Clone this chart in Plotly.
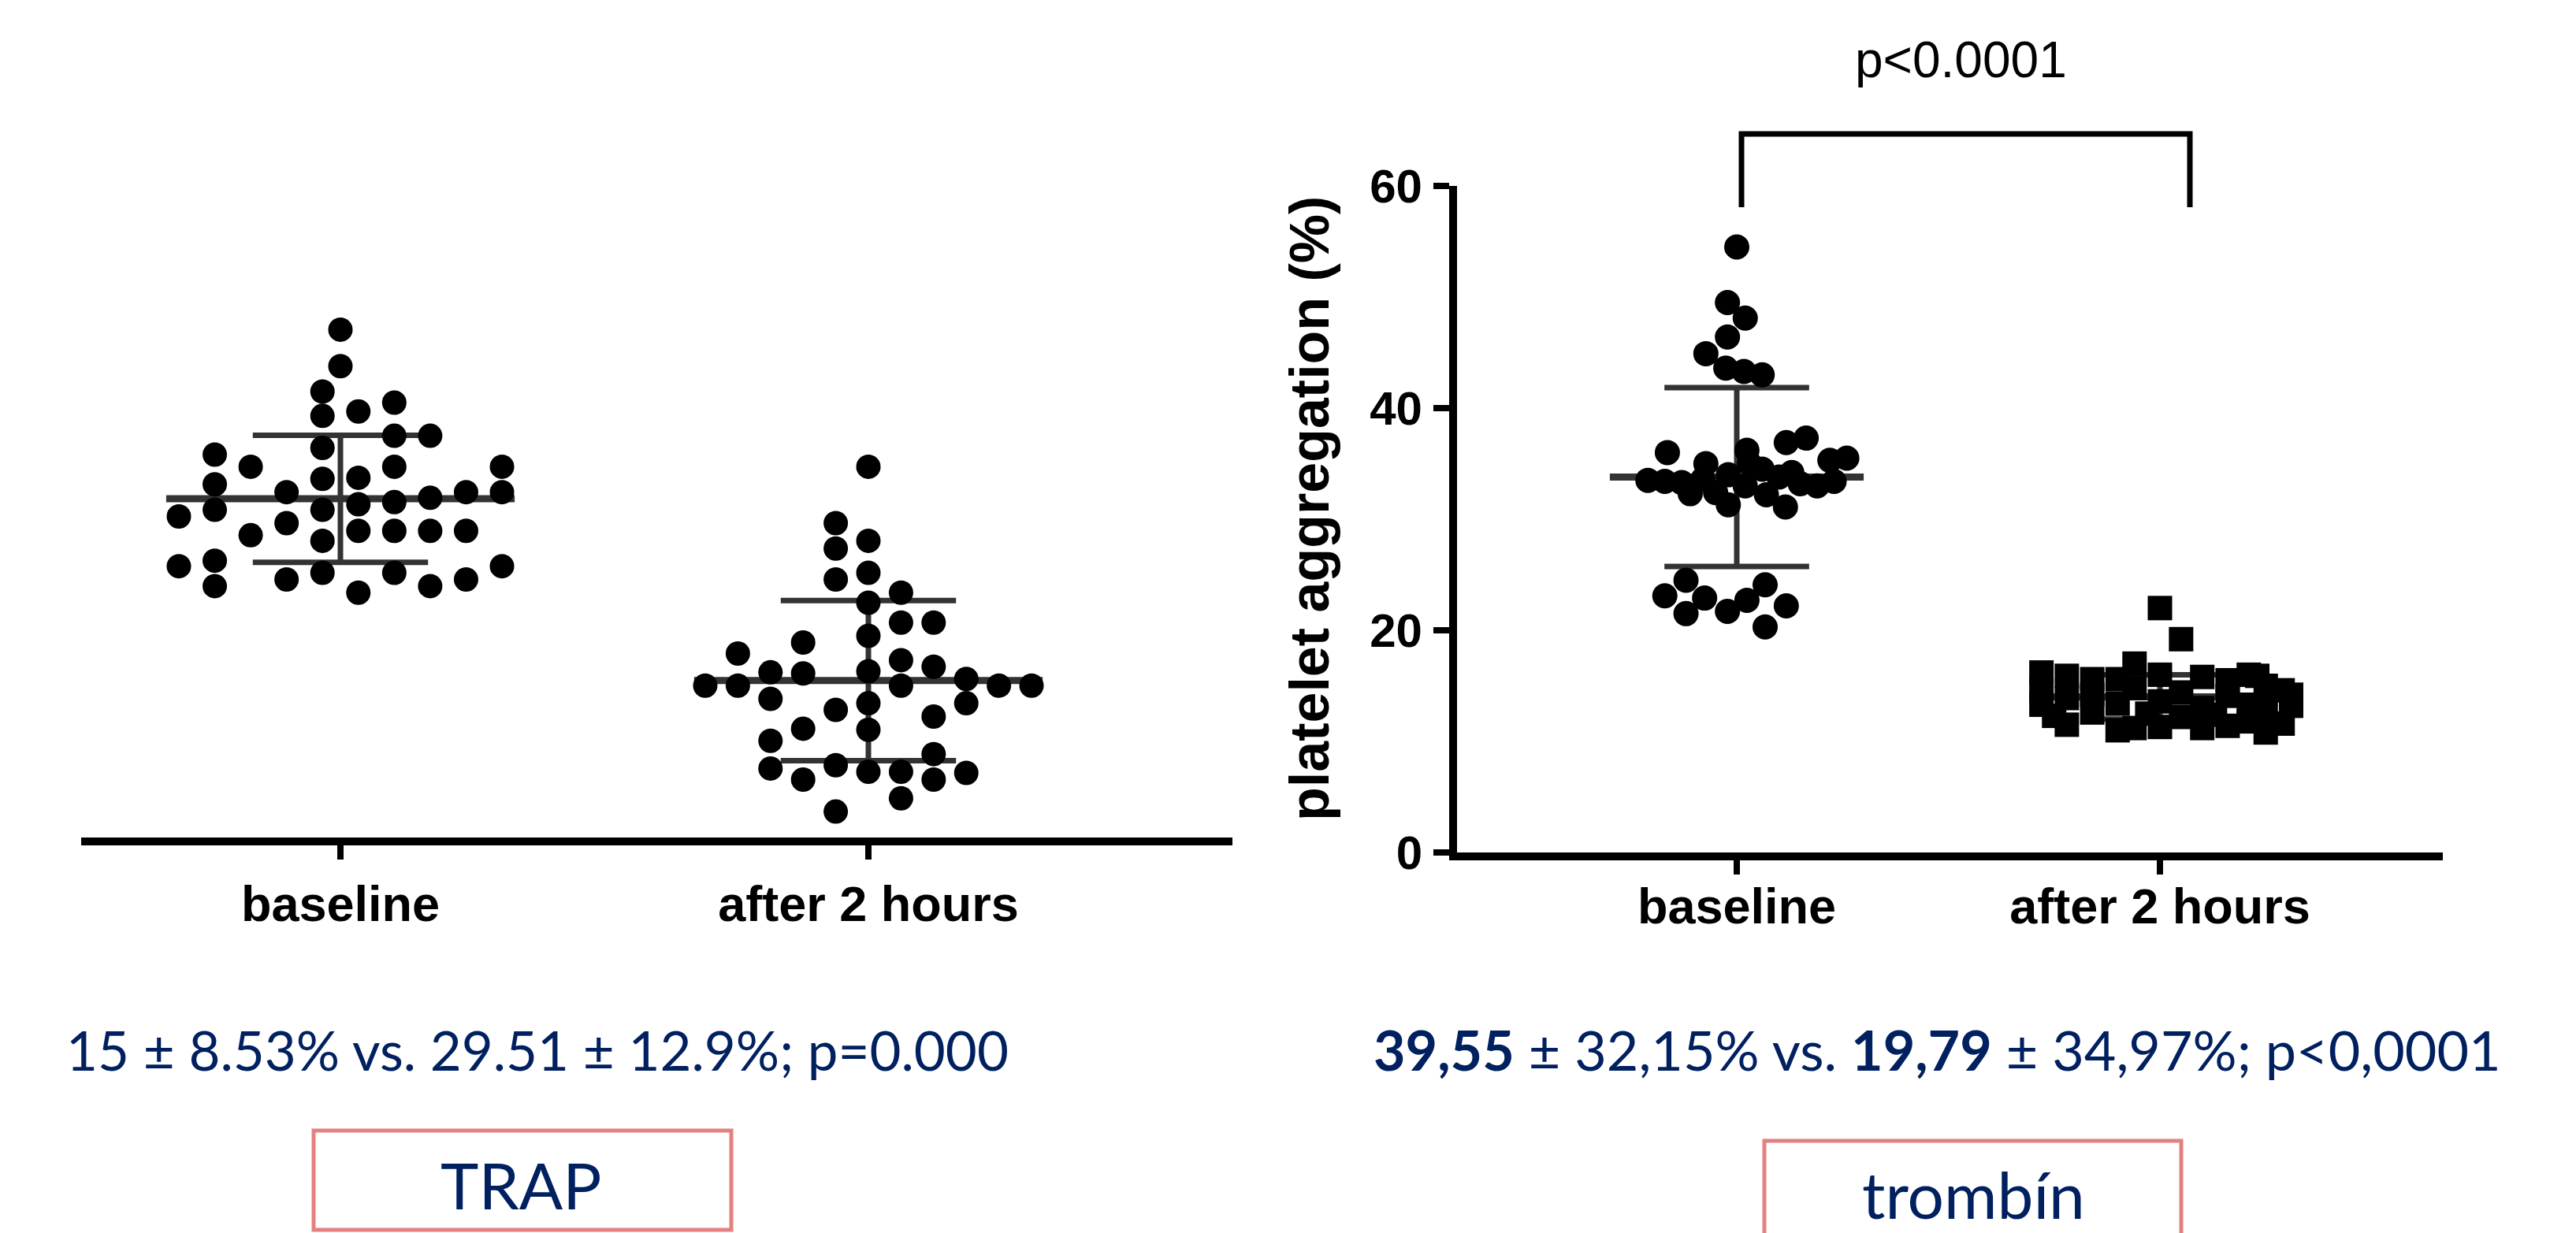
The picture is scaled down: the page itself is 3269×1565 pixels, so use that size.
import plotly.graph_objects as go

W, H = 3269, 1565

# ---------------- data ----------------
categories = ["baseline", "after 2 hours"]

# TRAP panel (left) - circles, x jitter in columns
trap_base_vals = [46.3, 43.0,
                  40.7, 38.5, 35.6, 32.8, 30.0, 27.2, 24.3,
                  38.9, 32.9, 30.5, 28.1, 22.5,
                  39.7, 36.7, 33.9, 30.7, 28.1, 24.3,
                  36.7, 31.1, 28.1, 23.1,
                  31.6, 28.1, 23.7,
                  33.9, 31.6, 24.9,
                  31.6, 28.8, 23.7,
                  33.9, 27.7,
                  35.0, 32.3, 30.0, 25.4, 23.1,
                  29.4, 24.9]
trap_base_cols = [0, 0,
                  -0.5, -0.5, -0.5, -0.5, -0.5, -0.5, -0.5,
                  0.5, 0.5, 0.5, 0.5, 0.5,
                  1.5, 1.5, 1.5, 1.5, 1.5, 1.5,
                  2.5, 2.5, 2.5, 2.5,
                  3.5, 3.5, 3.5,
                  4.5, 4.5, 4.5,
                  -1.5, -1.5, -1.5,
                  -2.5, -2.5,
                  -3.5, -3.5, -3.5, -3.5, -3.5,
                  -4.5, -4.5]

trap_after_vals = [33.9, 27.2, 24.3, 21.6, 18.6, 15.4, 12.5, 10.1, 6.3,
                   28.8, 26.5, 23.7, 11.9, 6.9, 2.7,
                   22.5, 19.8, 16.4, 14.1, 6.3, 3.9,
                   19.8, 15.8, 11.3, 7.9, 5.6,
                   14.7, 12.5, 6.2,
                   14.1,
                   14.1,
                   18.0, 15.2, 10.2, 5.6,
                   15.3, 12.9, 9.1, 6.6,
                   17.0, 14.1,
                   14.1]
trap_after_cols = [0, 0, 0, 0, 0, 0, 0, 0, 0,
                   -1, -1, -1, -1, -1, -1,
                   1, 1, 1, 1, 1, 1,
                   2, 2, 2, 2, 2,
                   3, 3, 3,
                   4,
                   5,
                   -2, -2, -2, -2,
                   -3, -3, -3, -3,
                   -4, -4,
                   -5]

trap_mean = [31.0, 14.55]
trap_sd = [5.75, 7.25]

# thrombin panel (right) - baseline circles, after squares; x jitter in category units
thr_base_vals = [54.5, 49.5, 48.1, 46.4, 44.9, 43.6, 43.3, 43.0,
                 36.0, 36.9, 37.3, 35.5, 35.0, 36.2,
                 33.5, 33.4, 33.3, 32.3, 33.6, 32.4, 34.0, 31.3, 35.0, 33.0,
                 34.5, 32.2, 33.8, 31.1, 33.2, 33.0, 33.4, 35.3, 34.2,
                 23.1, 24.5, 21.5, 22.9, 21.7, 22.7, 24.1, 22.2, 20.3]
thr_base_jit = [0.0, -0.022, 0.02, -0.022, -0.073, -0.026, 0.017, 0.06,
                -0.164, 0.117, 0.164, 0.26, -0.073, 0.024,
                -0.21, -0.17, -0.13, -0.11, -0.08, -0.05, -0.02, -0.02, 0.03, 0.02,
                0.06, 0.07, 0.10, 0.115, 0.15, 0.19, 0.23, 0.22, 0.13,
                -0.17, -0.12, -0.12, -0.076, -0.022, 0.024, 0.067, 0.117, 0.067]

thr_after_vals = [16.2, 14.6, 13.3, 15.9, 11.5, 13.9, 15.6, 12.6, 14.2,
                  15.6, 11.0, 13.4, 17.0, 14.8, 11.2,
                  22.0, 16.0, 13.6, 11.3, 19.2, 14.4, 12.2,
                  15.8, 13.0, 11.2, 15.5, 14.1, 11.4,
                  16.0, 13.3, 11.8, 15.0, 12.8, 10.8,
                  14.6, 11.6, 14.2, 13.2,
                  12.3, 12.4, 12.5, 15.9]
thr_after_jit = [-0.28, -0.28, -0.28, -0.22, -0.22, -0.22, -0.16, -0.16, -0.16,
                 -0.10, -0.10, -0.10, -0.06, -0.06, -0.06,
                 0.0, 0.0, 0.0, 0.0, 0.05, 0.05, 0.05,
                 0.10, 0.10, 0.10, 0.16, 0.16, 0.16,
                 0.21, 0.21, 0.21, 0.25, 0.25, 0.25,
                 0.29, 0.29, 0.31, 0.31,
                 -0.25, 0.13, -0.03, 0.23]

thr_mean = [33.8, 14.0]
thr_sd = [8.05, 2.0]

y_ticks = [0, 20, 40, 60]

left_text = "15 ± 8.53% vs. 29.51 ± 12.9%; p=0.000"
right_text = "<b>39,55</b> ± 32,15% vs. <b>19,79</b> ± 34,97%; p<0,0001"
p_text = "p<0.0001"
y_title = "platelet aggregation (%)"
box_labels = ["TRAP", "trombín"]

# ---------------- helpers ----------------
def px(x):
    return x / W

def py(y):
    return 1 - y / H

AX_FONT = "Arial, Liberation Sans, sans-serif"
TXT_FONT = "Lato, Carlito, sans-serif"
NAVY = "#002060"
BOX = "#E38181"

fig = go.Figure()

TRAP_COL = [0.068, 0.0618]  # column spacing per group (category units)

def errbars(mean, sd, xa, ya, mean_half, cap_half, color="#333333"):
    xs_m, ys_m, xs_c, ys_c = [], [], [], []
    for i, (m, s) in enumerate(zip(mean, sd)):
        xs_m += [i - mean_half, i + mean_half, None]
        ys_m += [m, m, None]
        xs_c += [i - cap_half, i + cap_half, None, i - cap_half, i + cap_half, None, i, i, None]
        ys_c += [m + s, m + s, None, m - s, m - s, None, m - s, m + s, None]
    fig.add_trace(go.Scatter(x=xs_m, y=ys_m, mode="lines", line=dict(color=color, width=9),
                             xaxis=xa, yaxis=ya, hoverinfo="skip", showlegend=False))
    fig.add_trace(go.Scatter(x=xs_c, y=ys_c, mode="lines", line=dict(color=color, width=7),
                             xaxis=xa, yaxis=ya, hoverinfo="skip", showlegend=False))

# left panel
errbars(trap_mean, trap_sd, "x", "y", 0.33, 0.166)
fig.add_trace(go.Scatter(x=[0 + c * TRAP_COL[0] for c in trap_base_cols], y=trap_base_vals,
                         mode="markers", marker=dict(symbol="circle", size=31, color="black"),
                         xaxis="x", yaxis="y", showlegend=False))
fig.add_trace(go.Scatter(x=[1 + c * TRAP_COL[1] for c in trap_after_cols], y=trap_after_vals,
                         mode="markers", marker=dict(symbol="circle", size=31, color="black"),
                         xaxis="x", yaxis="y", showlegend=False))

# right panel
errbars(thr_mean, thr_sd, "x2", "y2", 0.30, 0.171)
fig.add_trace(go.Scatter(x=[0 + j for j in thr_base_jit], y=thr_base_vals,
                         mode="markers", marker=dict(symbol="circle", size=32, color="black"),
                         xaxis="x2", yaxis="y2", showlegend=False))
fig.add_trace(go.Scatter(x=[1 + j for j in thr_after_jit], y=thr_after_vals,
                         mode="markers", marker=dict(symbol="square", size=31, color="black"),
                         xaxis="x2", yaxis="y2", showlegend=False))

tickfont = dict(family=AX_FONT, size=63, color="black", weight="bold")

fig.update_layout(
    width=W, height=H, autosize=False,
    margin=dict(l=0, r=0, t=0, b=0, pad=0, autoexpand=False),
    paper_bgcolor="white", plot_bgcolor="white",
    xaxis=dict(domain=[px(103), px(1564)], range=[(103 - 432) / 670, (1564 - 432) / 670],
               anchor="y", tickmode="array", tickvals=[0, 1], ticktext=categories,
               showline=True, linewidth=10, linecolor="black", ticks="outside", ticklen=18,
               tickwidth=8, tickcolor="black", tickfont=tickfont, showgrid=False, zeroline=False,
               ticklabelstandoff=2, automargin=False),
    yaxis=dict(domain=[py(1063), py(236)], range=[5 / 14.03, (1068 - 236) / 14.03],
               anchor="x", visible=False, showgrid=False, zeroline=False, automargin=False),
    xaxis2=dict(domain=[px(1849), px(3100)], range=[(1849 - 2204) / 537, (3100 - 2204) / 537],
                anchor="y2", tickmode="array", tickvals=[0, 1], ticktext=categories,
                showline=True, linewidth=10, linecolor="black", ticks="outside", ticklen=18,
                tickwidth=8, tickcolor="black", tickfont=tickfont, showgrid=False, zeroline=False,
                ticklabelstandoff=-14, automargin=False),
    yaxis2=dict(domain=[py(1082), py(236)], range=[0, 60], anchor="x2",
                tickmode="array", tickvals=y_ticks,
                showline=True, linewidth=10, linecolor="black", ticks="outside", ticklen=20,
                tickwidth=8, tickcolor="black",
                tickfont=dict(family=AX_FONT, size=60, color="black", weight="bold"),
                showgrid=False, zeroline=False, ticklabelstandoff=2, automargin=False),
)

def ann(text, x, y, size, family, color="black", weight="normal", angle=0, xanchor="center"):
    return dict(text=text, x=px(x), y=py(y), xref="paper", yref="paper", showarrow=False,
                xanchor=xanchor, yanchor="middle", textangle=angle,
                font=dict(family=family, size=size, color=color, weight=weight))

annotations = [
    ann(p_text, 2488, 76, 64, AX_FONT),
    ann(y_title, 1662, 646, 70, AX_FONT, weight="bold", angle=-90),
    ann(left_text, 82, 1332, 69, TXT_FONT, color=NAVY, xanchor="left"),
    ann(right_text, 1741, 1332, 70, TXT_FONT, color=NAVY, xanchor="left"),
    ann(box_labels[0], 661, 1503, 82, TXT_FONT, color=NAVY),
    ann(box_labels[1], 2504, 1515, 82, TXT_FONT, color=NAVY),
]
fig.update_layout(annotations=annotations)

shapes = [
    dict(type="path", xref="paper", yref="paper",
         path=f"M {px(2210)},{py(263)} L {px(2210)},{py(170)} L {px(2779)},{py(170)} L {px(2779)},{py(263)}",
         line=dict(color="black", width=7)),
    dict(type="rect", xref="paper", yref="paper", x0=px(398), x1=px(928), y0=py(1561), y1=py(1435),
         line=dict(color=BOX, width=5)),
    dict(type="rect", xref="paper", yref="paper", x0=px(2239), x1=px(2768), y0=py(1640), y1=py(1448),
         line=dict(color=BOX, width=5)),
]
fig.update_layout(shapes=shapes)

fig.write_html("out.html", config={"displayModeBar": False},
               post_script="document.body.style.margin='0';")
